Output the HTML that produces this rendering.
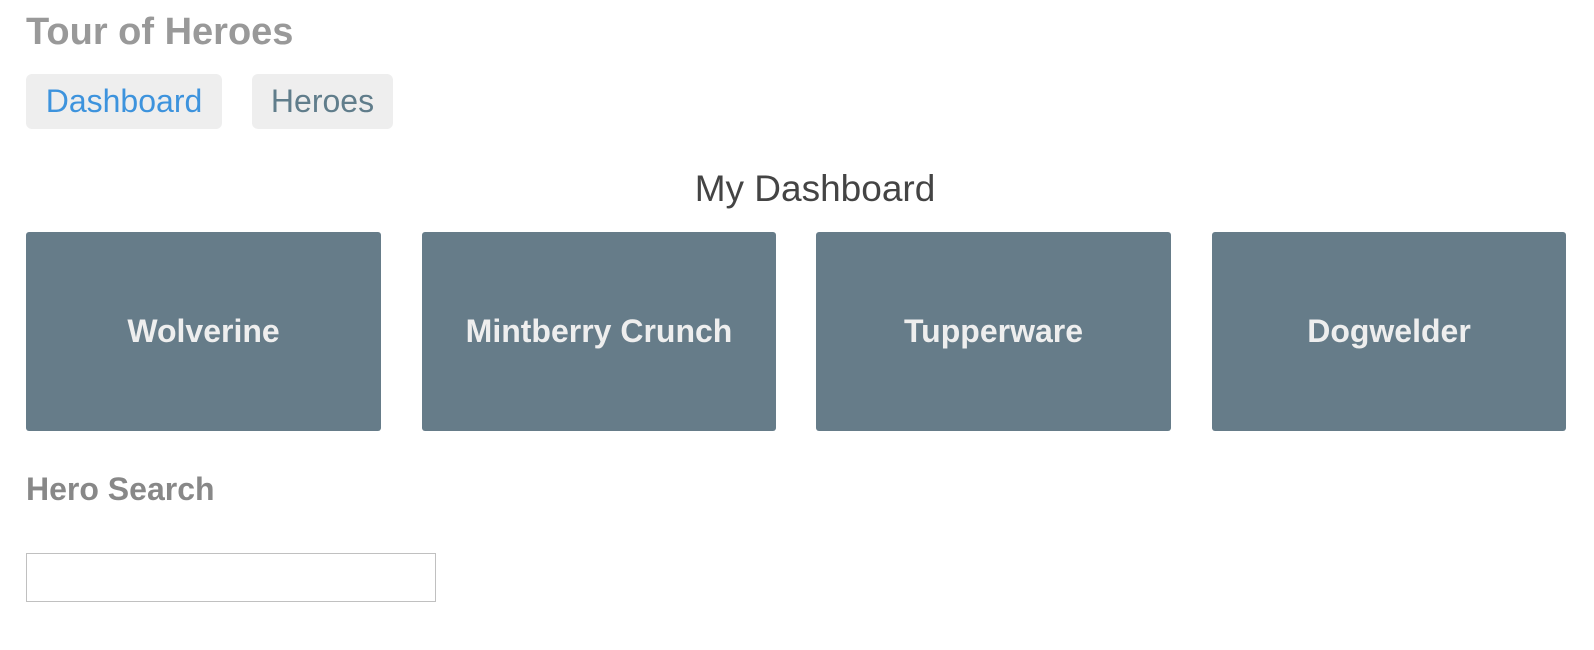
<!DOCTYPE html>
<html><head><meta charset="utf-8"><style>
body{margin:0;width:1594px;height:650px;background:#fff;font-family:"Liberation Sans",Arial,sans-serif;position:relative;overflow:hidden}
.a{position:absolute}
.t{left:26px;top:12px;font-size:38px;line-height:40px;font-weight:bold;color:#999}
.btn{top:74px;height:55px;background:#eee;border-radius:6px;font-size:32px;line-height:55px;text-align:center}
.h{left:0;width:1630px;top:169px;text-align:center;font-size:37px;line-height:40px;color:#444}
.card{top:232px;height:199px;background:#667c89;border-radius:3px;color:#eee;font-weight:bold;font-size:32px;line-height:199px;text-align:center}
.s{left:26px;top:472px;font-size:32px;line-height:34px;font-weight:bold;color:#888}
.in{left:26px;top:553px;width:408px;height:47px;border:1px solid #c0c0c0}
</style></head><body>
<div class="a t">Tour of Heroes</div>
<div class="a btn" style="left:26px;width:196px;color:#3d93dd">Dashboard</div>
<div class="a btn" style="left:252px;width:141px;color:#607d8b">Heroes</div>
<div class="a h">My Dashboard</div>
<div class="a card" style="left:26px;width:355px">Wolverine</div>
<div class="a card" style="left:422px;width:354px">Mintberry Crunch</div>
<div class="a card" style="left:816px;width:355px">Tupperware</div>
<div class="a card" style="left:1212px;width:354px">Dogwelder</div>
<div class="a s">Hero Search</div>
<div class="a in"></div>
</body></html>
